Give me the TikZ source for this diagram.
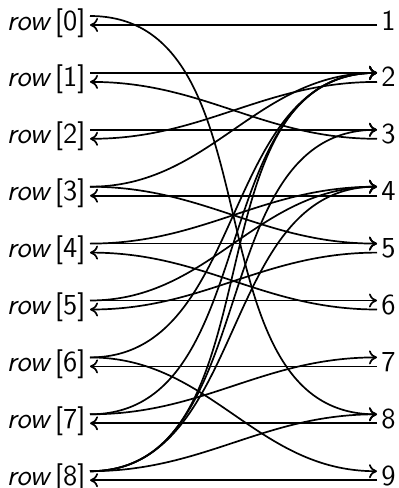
\documentclass[tikz,border=0pt]{standalone}
\usetikzlibrary{arrows.meta}
\begin{document}
\begin{tikzpicture}[x=0.5pt,y=-0.5pt,
  lab/.style={font=\fontsize{14.5}{17}\selectfont\sffamily, inner sep=0pt},
  fwd/.style={-{To[length=4pt,width=7pt]}, line width=0.85pt},
  bwd/.style={-{To[length=4pt,width=7pt]}, line width=0.85pt}]
\useasboundingbox (0,0) rectangle (398,488);
\foreach \k in {0,...,8} {
  \node[lab, anchor=base east] (r\k) at (86, 30+56.9*\k) {\textit{row}\hspace{0.12em}[\k]};
  \coordinate (ro\k) at (90, 16+56.9*\k);
  \coordinate (ri\k) at (90, 25+56.9*\k);
}
\foreach \j in {1,...,9} {
  \node[lab, anchor=base west] (n\j) at (381, 30+56.9*\j-56.9) {\j};
  \coordinate (ni\j) at (377, 16+56.9*\j-56.9);
  \coordinate (no\j) at (377, 25+56.9*\j-56.9);
}
% number -> row
\foreach \a/\b in {1/0,2/2,3/1,4/3,5/5,6/4,7/6,8/7,9/8}
  \draw[bwd] (no\a) to[out=180,in=0] (ri\b);
% row -> number
\foreach \a/\b in {0/8,1/2,2/3,3/2,3/5,4/5,4/4,5/6,5/4,6/9,6/2,7/7,7/2,8/8,8/2,8/3,8/4}
  \draw[fwd] (ro\a) to[out=0,in=180] (ni\b);
\end{tikzpicture}
\end{document}
